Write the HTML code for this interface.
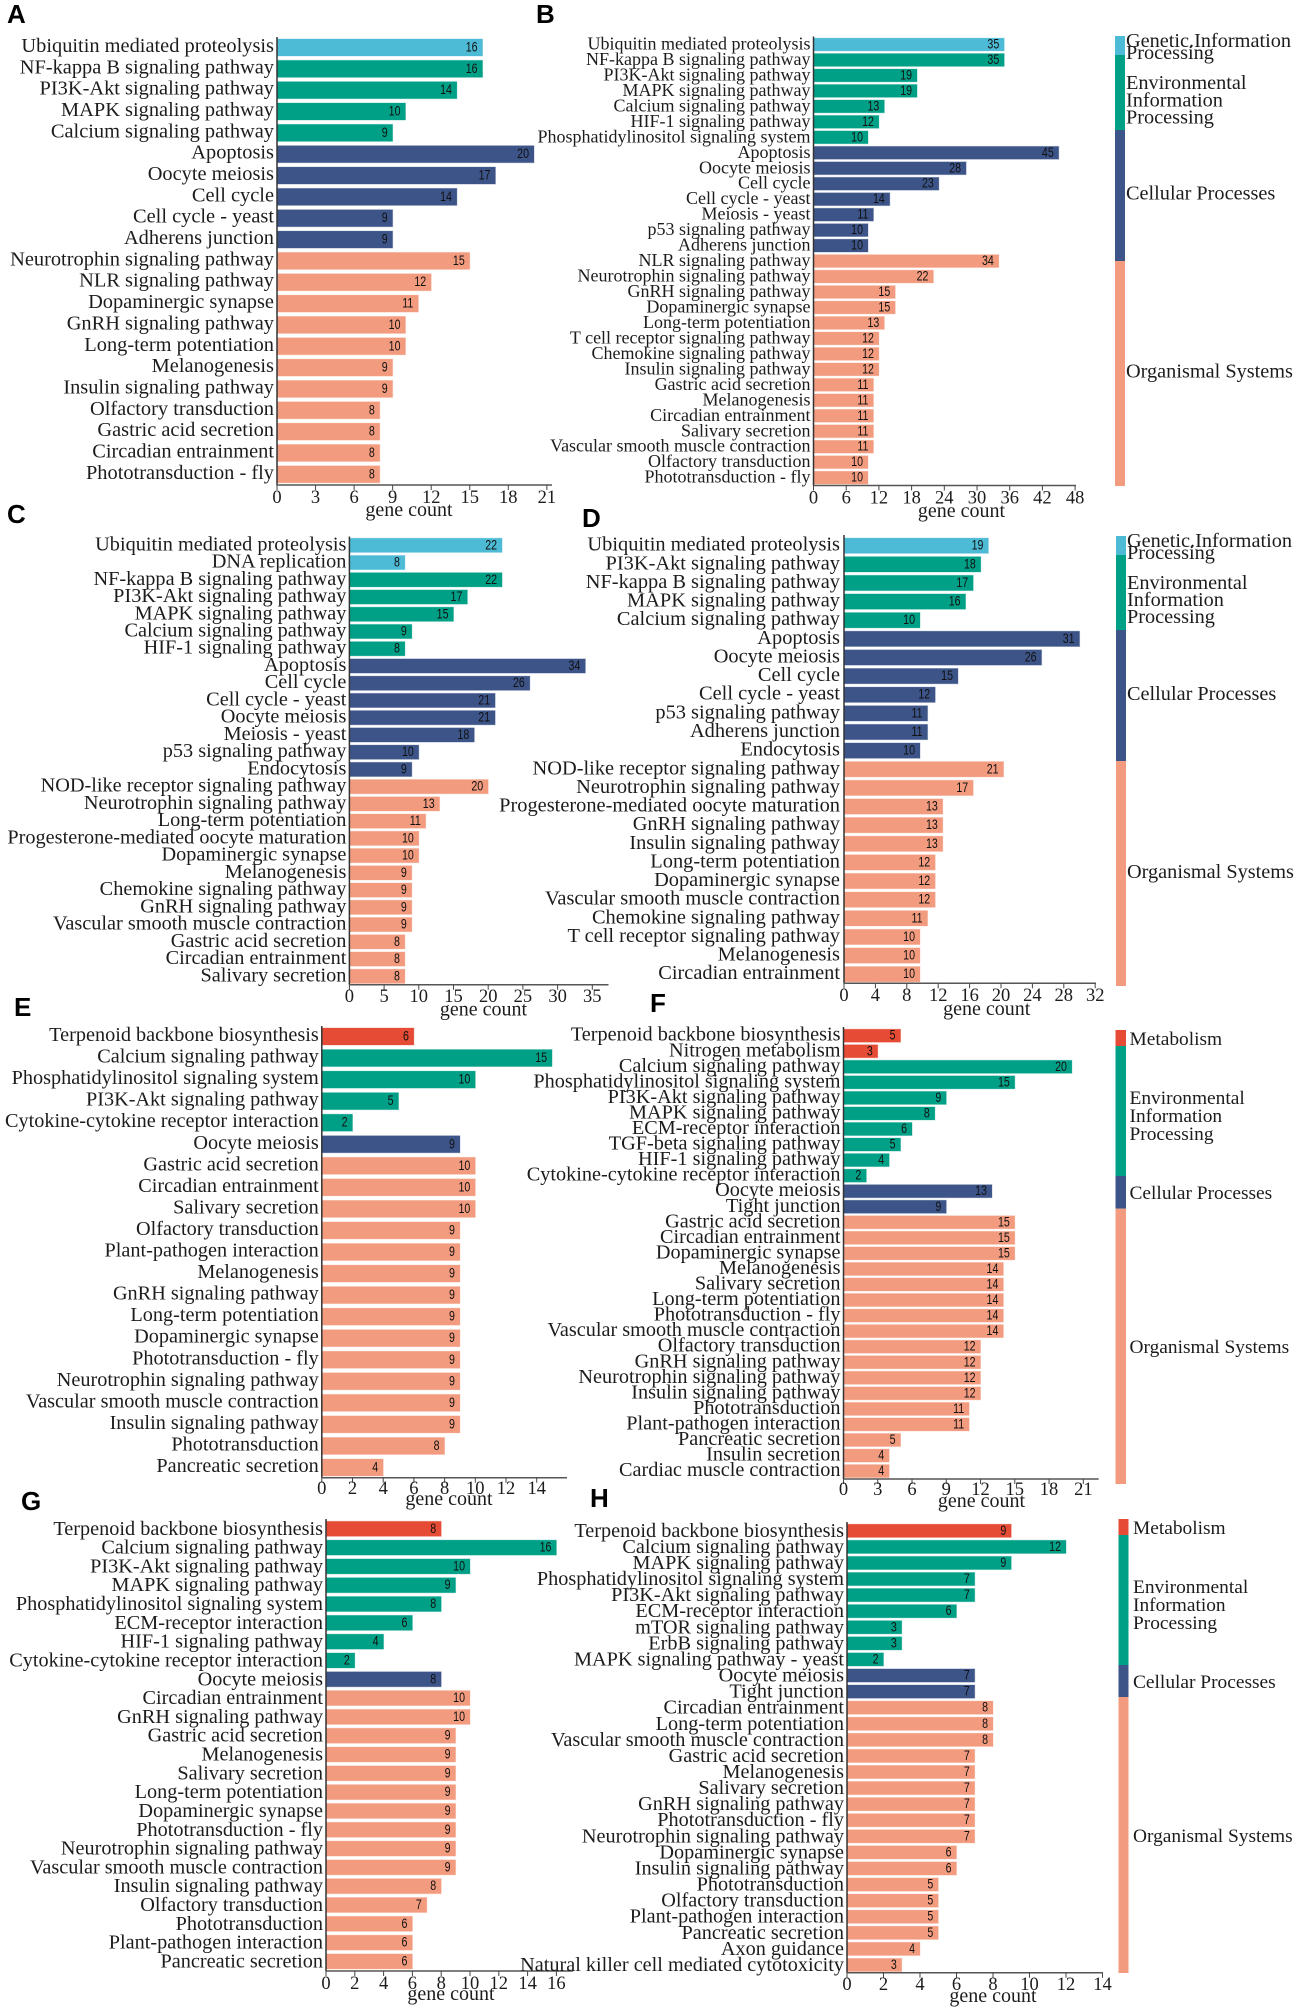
<!DOCTYPE html>
<html lang="en">
<head>
<meta charset="utf-8">
<title>KEGG pathway enrichment bar charts</title>
<style>
html,body{margin:0;padding:0;background:#fff;}
svg{display:block;filter:blur(0.35px);}
text{font-family:"Liberation Serif",serif;fill:#1c1c1c;}
.letter{font-family:"Liberation Sans",sans-serif;font-weight:bold;font-size:26px;fill:#000;}
.leg{font-size:20.3px;}
.leg2{font-size:19.4px;}
.val{font-family:"Liberation Sans",sans-serif;font-size:14px;fill:#111;}
.lab{font-size:20.25px;}
.tick{font-size:18.5px;}
.gc{font-size:20px;}
</style>
</head>
<body>
<svg id="figure" xmlns="http://www.w3.org/2000/svg" width="1299" height="2012" viewBox="0 0 1299 2012">
  <rect x="0" y="0" width="1299" height="2012" fill="#fff"/>
  <text class="letter" x="7" y="23">A</text>
  <text class="letter" x="536" y="23">B</text>
  <text class="letter" x="7" y="523">C</text>
  <text class="letter" x="582" y="527">D</text>
  <text class="letter" x="14" y="1016">E</text>
  <text class="letter" x="650" y="1012">F</text>
  <text class="letter" x="21" y="1510">G</text>
  <text class="letter" x="590" y="1507">H</text>

  <g>
    <rect x="1115" y="36" width="10" height="19" fill="#4DBBD5"/>
    <rect x="1115" y="55" width="10" height="75" fill="#00A087"/>
    <rect x="1115" y="130" width="10" height="131" fill="#3C5488"/>
    <rect x="1115" y="261" width="10" height="225" fill="#F39B7F"/>
    <text class="leg" x="1126" y="47">Genetic.Information</text>
    <text class="leg" x="1126" y="59">Processing</text>
    <text class="leg" x="1126" y="89">Environmental</text>
    <text class="leg" x="1126" y="106.5">Information</text>
    <text class="leg" x="1126" y="123.5">Processing</text>
    <text class="leg" x="1126" y="199.5">Cellular Processes</text>
    <text class="leg" x="1126" y="377.5">Organismal Systems</text>
  </g>

  <g>
    <rect x="1116" y="536" width="10" height="19" fill="#4DBBD5"/>
    <rect x="1116" y="555" width="10" height="75" fill="#00A087"/>
    <rect x="1116" y="630" width="10" height="131" fill="#3C5488"/>
    <rect x="1116" y="761" width="10" height="225" fill="#F39B7F"/>
    <text class="leg" x="1127" y="547">Genetic.Information</text>
    <text class="leg" x="1127" y="559">Processing</text>
    <text class="leg" x="1127" y="589">Environmental</text>
    <text class="leg" x="1127" y="606">Information</text>
    <text class="leg" x="1127" y="623">Processing</text>
    <text class="leg" x="1127" y="700">Cellular Processes</text>
    <text class="leg" x="1127" y="878">Organismal Systems</text>
  </g>

  <g>
    <rect x="1115.5" y="1030" width="10.5" height="16" fill="#E64B35"/>
    <rect x="1115.5" y="1046" width="10.5" height="130" fill="#00A087"/>
    <rect x="1115.5" y="1176" width="10.5" height="32.7" fill="#3C5488"/>
    <rect x="1115.5" y="1208.7" width="10.5" height="275.3" fill="#F39B7F"/>
    <text class="leg2" x="1129.5" y="1045">Metabolism</text>
    <text class="leg2" x="1129.5" y="1104">Environmental</text>
    <text class="leg2" x="1129.5" y="1122">Information</text>
    <text class="leg2" x="1129.5" y="1140">Processing</text>
    <text class="leg2" x="1129.5" y="1199">Cellular Processes</text>
    <text class="leg2" x="1129.5" y="1353">Organismal Systems</text>
  </g>

  <g>
    <rect x="1118.5" y="1519" width="10" height="16" fill="#E64B35"/>
    <rect x="1118.5" y="1535" width="10" height="130" fill="#00A087"/>
    <rect x="1118.5" y="1665" width="10" height="32" fill="#3C5488"/>
    <rect x="1118.5" y="1697" width="10" height="276" fill="#F39B7F"/>
    <text class="leg2" x="1133" y="1534">Metabolism</text>
    <text class="leg2" x="1133" y="1593">Environmental</text>
    <text class="leg2" x="1133" y="1611">Information</text>
    <text class="leg2" x="1133" y="1629">Processing</text>
    <text class="leg2" x="1133" y="1688">Cellular Processes</text>
    <text class="leg2" x="1133" y="1842">Organismal Systems</text>
  </g>
</svg>

<script>
var panelACategories = ["Ubiquitin mediated proteolysis","NF-kappa B signaling pathway","PI3K-Akt signaling pathway","MAPK signaling pathway","Calcium signaling pathway","Apoptosis","Oocyte meiosis","Cell cycle","Cell cycle - yeast","Adherens junction","Neurotrophin signaling pathway","NLR signaling pathway","Dopaminergic synapse","GnRH signaling pathway","Long-term potentiation","Melanogenesis","Insulin signaling pathway","Olfactory transduction","Gastric acid secretion","Circadian entrainment","Phototransduction - fly"];
var panelAValues = [16,16,14,10,9,20,17,14,9,9,15,12,11,10,10,9,9,8,8,8,8];
var panelAClasses = ["genetic","environmental","cellular","organismal"];
var panelAClassCounts = [1,4,5,11];
var panelATicks = [0,3,6,9,12,15,18,21];

var panelBCategories = ["Ubiquitin mediated proteolysis","NF-kappa B signaling pathway","PI3K-Akt signaling pathway","MAPK signaling pathway","Calcium signaling pathway","HIF-1 signaling pathway","Phosphatidylinositol signaling system","Apoptosis","Oocyte meiosis","Cell cycle","Cell cycle - yeast","Meiosis - yeast","p53 signaling pathway","Adherens junction","NLR signaling pathway","Neurotrophin signaling pathway","GnRH signaling pathway","Dopaminergic synapse","Long-term potentiation","T cell receptor signaling pathway","Chemokine signaling pathway","Insulin signaling pathway","Gastric acid secretion","Melanogenesis","Circadian entrainment","Salivary secretion","Vascular smooth muscle contraction","Olfactory transduction","Phototransduction - fly"];
var panelBValues = [35,35,19,19,13,12,10,45,28,23,14,11,10,10,34,22,15,15,13,12,12,12,11,11,11,11,11,10,10];
var panelBClasses = ["genetic","environmental","cellular","organismal"];
var panelBClassCounts = [1,6,7,15];
var panelBTicks = [0,6,12,18,24,30,36,42,48];

var panelCCategories = ["Ubiquitin mediated proteolysis","DNA replication","NF-kappa B signaling pathway","PI3K-Akt signaling pathway","MAPK signaling pathway","Calcium signaling pathway","HIF-1 signaling pathway","Apoptosis","Cell cycle","Cell cycle - yeast","Oocyte meiosis","Meiosis - yeast","p53 signaling pathway","Endocytosis","NOD-like receptor signaling pathway","Neurotrophin signaling pathway","Long-term potentiation","Progesterone-mediated oocyte maturation","Dopaminergic synapse","Melanogenesis","Chemokine signaling pathway","GnRH signaling pathway","Vascular smooth muscle contraction","Gastric acid secretion","Circadian entrainment","Salivary secretion"];
var panelCValues = [22,8,22,17,15,9,8,34,26,21,21,18,10,9,20,13,11,10,10,9,9,9,9,8,8,8];
var panelCClasses = ["genetic","environmental","cellular","organismal"];
var panelCClassCounts = [2,5,7,12];
var panelCTicks = [0,5,10,15,20,25,30,35];

var panelDCategories = ["Ubiquitin mediated proteolysis","PI3K-Akt signaling pathway","NF-kappa B signaling pathway","MAPK signaling pathway","Calcium signaling pathway","Apoptosis","Oocyte meiosis","Cell cycle","Cell cycle - yeast","p53 signaling pathway","Adherens junction","Endocytosis","NOD-like receptor signaling pathway","Neurotrophin signaling pathway","Progesterone-mediated oocyte maturation","GnRH signaling pathway","Insulin signaling pathway","Long-term potentiation","Dopaminergic synapse","Vascular smooth muscle contraction","Chemokine signaling pathway","T cell receptor signaling pathway","Melanogenesis","Circadian entrainment"];
var panelDValues = [19,18,17,16,10,31,26,15,12,11,11,10,21,17,13,13,13,12,12,12,11,10,10,10];
var panelDClasses = ["genetic","environmental","cellular","organismal"];
var panelDClassCounts = [1,4,7,12];
var panelDTicks = [0,4,8,12,16,20,24,28,32];

var panelECategories = ["Terpenoid backbone biosynthesis","Calcium signaling pathway","Phosphatidylinositol signaling system","PI3K-Akt signaling pathway","Cytokine-cytokine receptor interaction","Oocyte meiosis","Gastric acid secretion","Circadian entrainment","Salivary secretion","Olfactory transduction","Plant-pathogen interaction","Melanogenesis","GnRH signaling pathway","Long-term potentiation","Dopaminergic synapse","Phototransduction - fly","Neurotrophin signaling pathway","Vascular smooth muscle contraction","Insulin signaling pathway","Phototransduction","Pancreatic secretion"];
var panelEValues = [6,15,10,5,2,9,10,10,10,9,9,9,9,9,9,9,9,9,9,8,4];
var panelEClasses = ["metabolism","environmental","cellular","organismal"];
var panelEClassCounts = [1,4,1,15];
var panelETicks = [0,2,4,6,8,10,12,14];

var panelFCategories = ["Terpenoid backbone biosynthesis","Nitrogen metabolism","Calcium signaling pathway","Phosphatidylinositol signaling system","PI3K-Akt signaling pathway","MAPK signaling pathway","ECM-receptor interaction","TGF-beta signaling pathway","HIF-1 signaling pathway","Cytokine-cytokine receptor interaction","Oocyte meiosis","Tight junction","Gastric acid secretion","Circadian entrainment","Dopaminergic synapse","Melanogenesis","Salivary secretion","Long-term potentiation","Phototransduction - fly","Vascular smooth muscle contraction","Olfactory transduction","GnRH signaling pathway","Neurotrophin signaling pathway","Insulin signaling pathway","Phototransduction","Plant-pathogen interaction","Pancreatic secretion","Insulin secretion","Cardiac muscle contraction"];
var panelFValues = [5,3,20,15,9,8,6,5,4,2,13,9,15,15,15,14,14,14,14,14,12,12,12,12,11,11,5,4,4];
var panelFClasses = ["metabolism","environmental","cellular","organismal"];
var panelFClassCounts = [2,8,2,17];
var panelFTicks = [0,3,6,9,12,15,18,21];

var panelGCategories = ["Terpenoid backbone biosynthesis","Calcium signaling pathway","PI3K-Akt signaling pathway","MAPK signaling pathway","Phosphatidylinositol signaling system","ECM-receptor interaction","HIF-1 signaling pathway","Cytokine-cytokine receptor interaction","Oocyte meiosis","Circadian entrainment","GnRH signaling pathway","Gastric acid secretion","Melanogenesis","Salivary secretion","Long-term potentiation","Dopaminergic synapse","Phototransduction - fly","Neurotrophin signaling pathway","Vascular smooth muscle contraction","Insulin signaling pathway","Olfactory transduction","Phototransduction","Plant-pathogen interaction","Pancreatic secretion"];
var panelGValues = [8,16,10,9,8,6,4,2,8,10,10,9,9,9,9,9,9,9,9,8,7,6,6,6];
var panelGClasses = ["metabolism","environmental","cellular","organismal"];
var panelGClassCounts = [1,7,1,15];
var panelGTicks = [0,2,4,6,8,10,12,14,16];

var panelHCategories = ["Terpenoid backbone biosynthesis","Calcium signaling pathway","MAPK signaling pathway","Phosphatidylinositol signaling system","PI3K-Akt signaling pathway","ECM-receptor interaction","mTOR signaling pathway","ErbB signaling pathway","MAPK signaling pathway - yeast","Oocyte meiosis","Tight junction","Circadian entrainment","Long-term potentiation","Vascular smooth muscle contraction","Gastric acid secretion","Melanogenesis","Salivary secretion","GnRH signaling pathway","Phototransduction - fly","Neurotrophin signaling pathway","Dopaminergic synapse","Insulin signaling pathway","Phototransduction","Olfactory transduction","Plant-pathogen interaction","Pancreatic secretion","Axon guidance","Natural killer cell mediated cytotoxicity"];
var panelHValues = [9,12,9,7,7,6,3,3,2,7,7,8,8,8,7,7,7,7,7,7,6,6,5,5,5,5,4,3];
var panelHClasses = ["metabolism","environmental","cellular","organismal"];
var panelHClassCounts = [1,8,2,17];
var panelHTicks = [0,2,4,6,8,10,12,14];

var classColors = {genetic:"#4DBBD5",environmental:"#00A087",cellular:"#3C5488",organismal:"#F39B7F",metabolism:"#E64B35"};
var NS = "http://www.w3.org/2000/svg";
var figure = document.getElementById("figure");

function make(tag, parent, attrs) {
  var el = document.createElementNS(NS, tag);
  for (var k in attrs) { el.setAttribute(k, attrs[k]); }
  parent.appendChild(el);
  return el;
}

function drawPanel(p) {
  var xBar = function (v) { return p.ax + v * p.unit; };
  var xTick = function (v) { return p.ax + v * (p.tickUnit || p.unit); };
  var yRow = function (i) { return p.first + i * p.step; };

  var chart = make("g", figure, {});
  
  

  var rowClass = [];
  p.classCounts.forEach(function (n, c) {
    for (var j = 0; j < n; j++) { rowClass.push(p.classes[c]); }
  });

  p.values.forEach(function (v, i) {
    var cy = yRow(i);
    var color = classColors[rowClass[i]];
    var bar = make("rect", chart, {x: p.ax, y: cy - p.bh / 2, width: xBar(v) - p.ax, height: p.bh, fill: color, stroke: color, "stroke-opacity": "0.3", "stroke-width": "1"});
    
    

    var lab = make("text", chart, {"class": "lab", x: p.ax - (p.labelGap || 3), y: cy + p.labelDy, "text-anchor": "end"});
    
    
    lab.textContent = p.categories[i];
    if (p.labelSize) { lab.style.fontSize = p.labelSize + "px"; }

    var val = make("text", chart, {"class": "val", "text-anchor": "end", transform: "translate(" + (xBar(v) - 5) + "," + (cy + 4) + ") scale(0.76,1)"});
    
    
    val.textContent = v;
  });

  var yAxis = make("line", chart, {x1: p.ax, x2: p.ax, y1: p.axisTop, y2: p.axisY, stroke: "#333", "stroke-width": "1.5"});
  
  

  var xAxis = make("line", chart, {x1: p.ax, x2: p.axisEnd, y1: p.axisY, y2: p.axisY, stroke: "#555", "stroke-width": "1.5"});
  
  

  p.ticks.forEach(function (t) {
    var mark = make("line", chart, {x1: xTick(t), x2: xTick(t), y1: p.axisY, y2: p.axisY + 5, stroke: "#444", "stroke-width": "1"});
    
    
    var label = make("text", chart, {"class": "tick", x: xTick(t), y: p.tickBase, "text-anchor": "middle"});
    
    
    label.textContent = t;
  });

  var title = make("text", chart, {"class": "gc", x: p.gcX, y: p.gcY, "text-anchor": "middle"});
  
  
  title.textContent = "gene count";
}

drawPanel({categories: panelACategories, values: panelAValues, classes: panelAClasses, classCounts: panelAClassCounts, ticks: panelATicks,
  ax: 277, first: 47.5, step: 21.34, bh: 17, unit: 12.85, axisTop: 37, axisY: 485, axisEnd: 552, tickBase: 503, gcX: 409, gcY: 516, labelDy: 4.5, labelSize: 20.4});
drawPanel({categories: panelBCategories, values: panelBValues, classes: panelBClasses, classCounts: panelBClassCounts, ticks: panelBTicks,
  ax: 813.5, first: 44.5, step: 15.47, bh: 12.8, unit: 5.45, axisTop: 36.5, axisY: 485.5, axisEnd: 1076, tickBase: 503.5, gcX: 961.5, gcY: 517, labelDy: 5, labelSize: 18});
drawPanel({categories: panelCCategories, values: panelCValues, classes: panelCClasses, classCounts: panelCClassCounts, ticks: panelCTicks,
  ax: 349.4, first: 545.3, step: 17.24, bh: 14.2, unit: 6.94, axisTop: 536.5, axisY: 984.8, axisEnd: 608.5, tickBase: 1002, gcX: 483.5, gcY: 1015.5, labelDy: 5, labelSize: 20.3});
drawPanel({categories: panelDCategories, values: panelDValues, classes: panelDClasses, classCounts: panelDClassCounts, ticks: panelDTicks,
  ax: 844, first: 545.7, step: 18.63, bh: 15.3, unit: 7.6, tickUnit: 7.85, axisTop: 535, axisY: 983.3, axisEnd: 1096, tickBase: 1001, gcX: 986.7, gcY: 1015, labelDy: 5, labelSize: 20.4, labelGap: 4});
drawPanel({categories: panelECategories, values: panelEValues, classes: panelEClasses, classCounts: panelEClassCounts, ticks: panelETicks,
  ax: 321.8, first: 1036.5, step: 21.55, bh: 17, unit: 15.35, axisTop: 1026, axisY: 1477.7, axisEnd: 567, tickBase: 1494, gcX: 449, gcY: 1505, labelDy: 4.5});
drawPanel({categories: panelFCategories, values: panelFValues, classes: panelFClasses, classCounts: panelFClassCounts, ticks: panelFTicks,
  ax: 843.5, first: 1035.7, step: 15.55, bh: 13, unit: 11.42, axisTop: 1027, axisY: 1479, axisEnd: 1098.7, tickBase: 1495, gcX: 981.5, gcY: 1507, labelDy: 5});
drawPanel({categories: panelGCategories, values: panelGValues, classes: panelGClasses, classCounts: panelGClassCounts, ticks: panelGTicks,
  ax: 326, first: 1528.8, step: 18.81, bh: 15, unit: 14.4, axisTop: 1519, axisY: 1971, axisEnd: 573, tickBase: 1989, gcX: 451, gcY: 2000, labelDy: 6});
drawPanel({categories: panelHCategories, values: panelHValues, classes: panelHClasses, classCounts: panelHClassCounts, ticks: panelHTicks,
  ax: 847, first: 1530.8, step: 16.08, bh: 13.2, unit: 18.25, axisTop: 1522, axisY: 1972.7, axisEnd: 1103, tickBase: 1990, gcX: 993, gcY: 2002, labelDy: 6});
</script>
</body>
</html>
